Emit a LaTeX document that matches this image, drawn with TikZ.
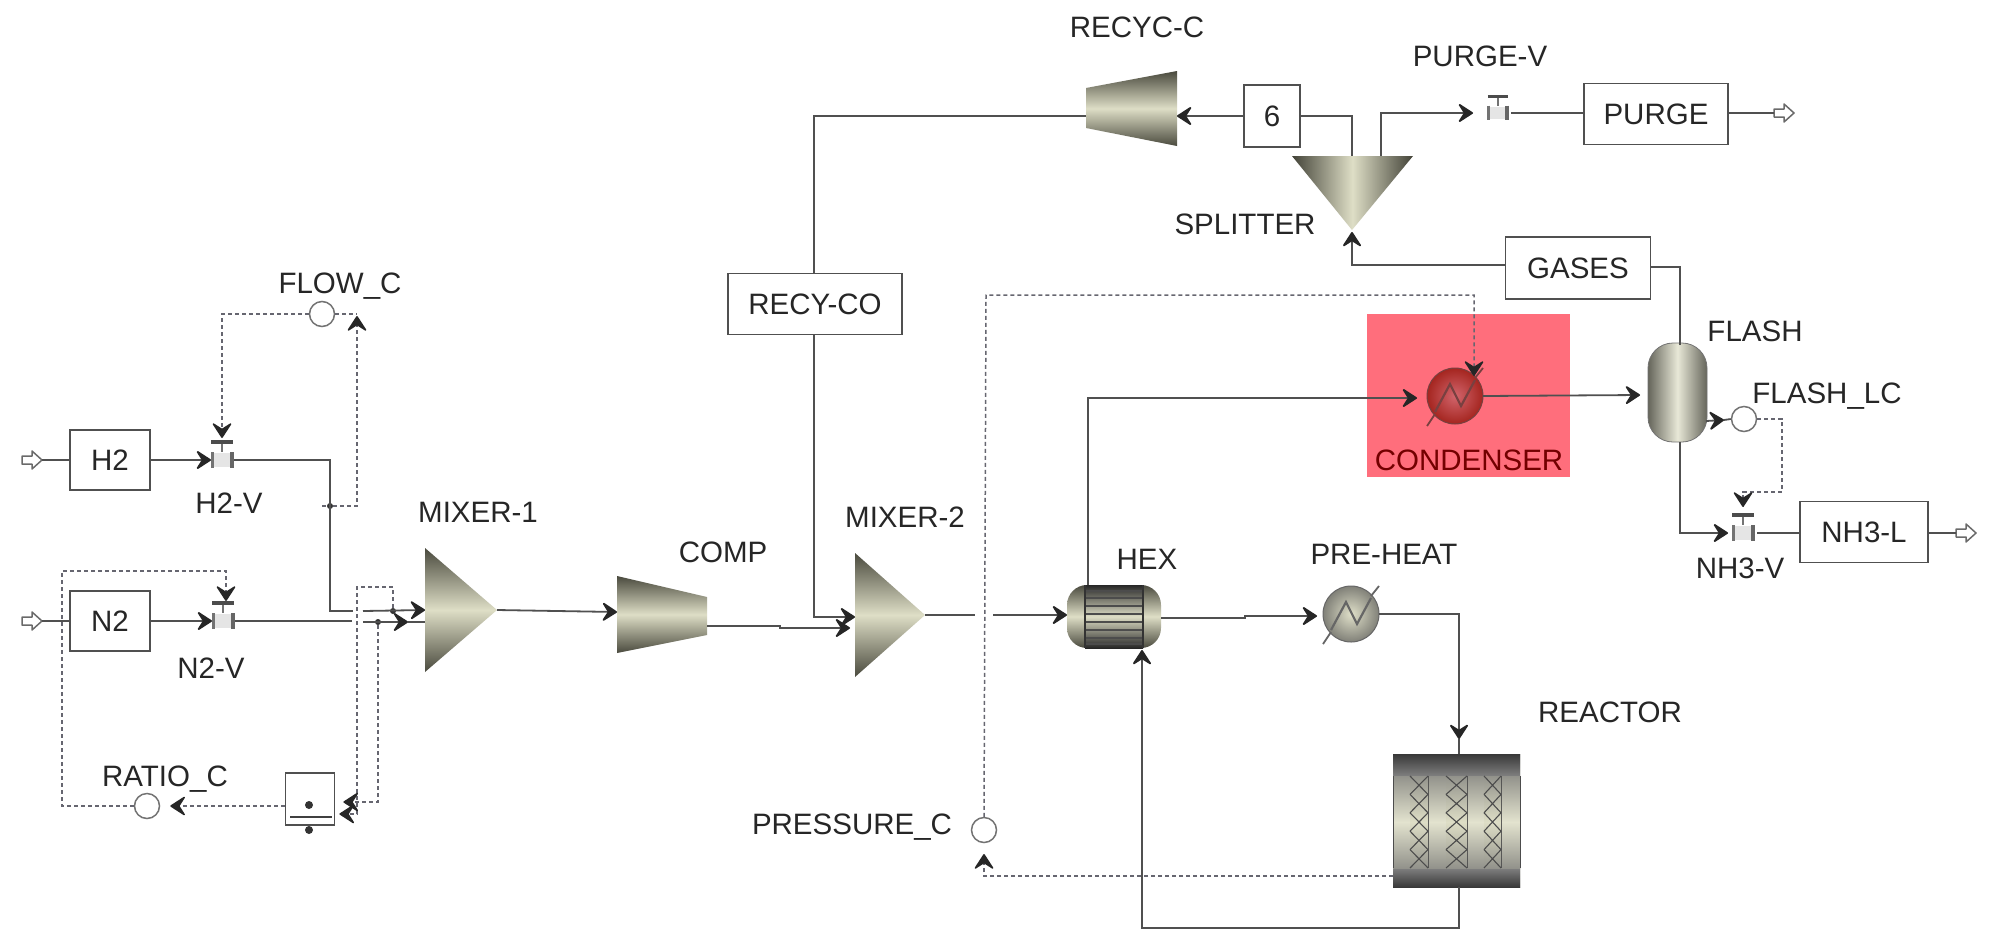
\documentclass[tikz,border=0pt]{standalone}
\usepackage{fontspec}
\setmainfont{Liberation Sans}
\usetikzlibrary{arrows.meta,calc}
\definecolor{pipec}{HTML}{505050}
\definecolor{sigc}{HTML}{666670}
\definecolor{txt}{HTML}{262626}
\definecolor{metald}{HTML}{4A4A3E}
\definecolor{metall}{HTML}{DEDEC6}
\definecolor{roomc}{HTML}{FF6E7C}
\tikzset{
  pipe/.style={draw=pipec,line width=1.8pt},
  pipea/.style={pipe,-{Stealth[length=17pt,width=22pt,inset=7pt,round,color=black!85]}},
  sig/.style={draw=sigc,line width=1.5pt,dash pattern=on 4pt off 3pt},
  siga/.style={sig,-{Stealth[length=17pt,width=22pt,inset=7pt,round,color=black!85]}},
  blockbox/.style={draw=pipec,line width=1.8pt,fill=white,minimum height=60pt,inner sep=0pt,text=txt,font=\fontsize{29.5}{32}\selectfont},
  lbl/.style={text=txt,font=\fontsize{29.5}{32}\selectfont,inner sep=0pt},
  ctrl/.style={circle,draw=pipec!80,line width=1.5pt,fill=white,minimum size=25pt,inner sep=0pt},
  tapdot/.style={circle,fill=black!80,minimum size=6pt,inner sep=0pt},
  metalv/.style={top color=metald,bottom color=metald,middle color=metall},
  metalh/.style={left color=metald,right color=metald,middle color=metall},
  pics/hollow/.style={code={
    \draw[line width=1.5pt,draw=pipec!85,fill=white,line join=round] (-10,-4)--(0,-4)--(0,-9)--(10,0)--(0,9)--(0,4)--(-10,4)--cycle;}},
  pics/valve/.style={code={
    \fill[black!10] (-10,-7) rectangle (10,7);
    \draw[line width=3pt,draw=black!55] (-10,-8)--(-10,8);
    \draw[line width=3.5pt,draw=black!60] (10,-8)--(10,8);
    \draw[line width=2pt,draw=black!55] (0,-18)--(0,-8);
    \draw[line width=3.5pt,draw=black!70] (-11,-18)--(11,-18);}},
  pics/hxer/.style n args={3}{code={
    \shade[inner color=#1,outer color=#2] (0,0) circle[radius=28pt];
    \draw[line width=1pt,draw=#3] (0,0) circle[radius=28pt];
    \draw[line width=1.8pt,draw=#3] (-28,30)--(-20,18);
    \draw[line width=1.8pt,draw=#3] (20,-18)--(28,-28);
    \draw[line width=2.2pt,draw=#3,line join=miter] (-20,16)--(-5,-12)--(6,10)--(20,-16);}},
}
\begin{document}
\begin{tikzpicture}[x=1pt,y=-1pt]
\useasboundingbox (0,0) rectangle (1991,930);
\fill[white] (0,0) rectangle (1991,930);
% condenser backdrop
\fill[roomc] (1367,314) rectangle (1570,477);

% ---- blocks
\node[blockbox,minimum width=80pt] (H2) at (110,460) {H2};
\node[blockbox,minimum width=80pt] (N2) at (110,621) {N2};
\node[blockbox,minimum width=174pt,minimum height=61pt] (RECYCO) at (815,304) {RECY-CO};
\node[blockbox,minimum width=56pt,minimum height=62pt] (B6) at (1272,116) {6};
\node[blockbox,minimum width=144pt,minimum height=61pt] (PURGE) at (1656,114) {PURGE};
\node[blockbox,minimum width=145pt,minimum height=62pt,fill=none] (GASES) at (1578,268) {GASES};
\node[blockbox,minimum width=128pt,minimum height=61pt] (NH3L) at (1864,532) {NH3-L};
\node[draw=pipec,line width=1.8pt,fill=white,minimum width=49pt,minimum height=52pt,inner sep=0pt] (DIV) at (310,799) {};
\node[tapdot,minimum size=8pt] (divA) at (309,805) {};
\draw[line width=2.5pt,draw=black!75] (290,817)--(332,817);
\node[tapdot,minimum size=8pt] (divB) at (309,830) {};

% ---- named ports
\coordinate (FH) at (32,460); \coordinate (FN) at (32,621);
\coordinate (FP) at (1784,113); \coordinate (FL) at (1966,533);
\coordinate (VH) at (222,460); \coordinate (VN) at (223,621);
\coordinate (VP) at (1498,113); \coordinate (VL) at (1743,533);
\coordinate (M1a) at (425,610); \coordinate (M1b) at (425,622); \coordinate (M1o) at (497,610);
\coordinate (Ci) at (617,612); \coordinate (Co) at (707,626);
\coordinate (M2a) at (855,617); \coordinate (M2b) at (850,628); \coordinate (M2o) at (925,615);
\coordinate (Hi) at (1067,615); \coordinate (Ho) at (1161,618); \coordinate (Ht) at (1088,585); \coordinate (Hb) at (1142,650);
\coordinate (PH) at (1351,614); \coordinate (CD) at (1455,396);
\coordinate (Rt) at (1459,754); \coordinate (Rb) at (1459,887); \coordinate (Rl) at (1393,876);
\coordinate (Ri) at (1177,116); \coordinate (Ro) at (1086,116);
\coordinate (St) at (1352,232);
\coordinate (Fi) at (1648,395); \coordinate (Ft) at (1680,345); \coordinate (Fb) at (1680,442); \coordinate (Fr) at (1706,421);

% ---- controllers
\node[ctrl] (FC) at (322,314) {};
\node[ctrl] (RC) at (147,806) {};
\node[ctrl] (PC) at (984,830) {};
\node[ctrl] (LC) at (1744,419) {};
\node[tapdot] (t1) at (330,506) {};
\node[tapdot] (t2) at (393,611) {};
\node[tapdot] (t3) at (378,622) {};

% ---- equipment
\shade[metalv] (425,548)--(497,610)--(425,672)--cycle;
\shade[metalv] (855,553)--(925,615)--(855,677)--cycle;
\shade[metalv] (617,576)--(707,597)--(707,635)--(617,653)--cycle;
\shade[metalv] (1086,88)--(1177,71)--(1177,146)--(1086,128)--cycle;
\shade[left color=metald!90!black,right color=metald!90!black,middle color=metall] (1292,156)--(1413,156)--(1352,230)--cycle;
% flash
\shade[left color=metald!85!white,right color=metald!85!white,middle color=metall!70!white,rounded corners=25pt] (1648,343) rectangle (1707,442);
\draw[line width=.8pt,draw=black!55,rounded corners=25pt] (1648,343) rectangle (1707,442);
% hex
\shade[metalv,rounded corners=20pt] (1067,585) rectangle (1161,648);
\shade[top color=black!85,bottom color=black!85,middle color=metall] (1085,585) rectangle (1143,648);
\foreach \yy in {591,598,606,614,622,630,638,644} \draw[line width=1.8pt,draw=black!70] (1085,\yy)--(1143,\yy);
\draw[line width=1.6pt,draw=black!80] (1085,585)--(1085,648) (1143,585)--(1143,648);
% reactor
\shade[top color=metald,bottom color=metald,middle color=metall] (1393,754) rectangle (1520,887);
\shade[top color=black!78,bottom color=black!50] (1393,754) rectangle (1520,776);
\shade[top color=black!50,bottom color=black!78] (1393,868) rectangle (1520,887);
\foreach \xa/\xb in {1393/1410,1428/1446,1467/1484,1501/1520}{
  \shade[top color=metald!60!white,bottom color=metald!60!white,middle color=metall!85!white] (\xa,776) rectangle (\xb,868);
  \draw[line width=1pt,draw=black!70] (\xa,776)--(\xa,868) (\xb,776)--(\xb,868);}
\foreach \xa/\xb in {1410/1428,1446/1467,1484/1501}{
  \shade[top color=metald!60!white,bottom color=metald!60!white,middle color=metall] (\xa,776) rectangle (\xb,868);
  \foreach \k in {0,...,4}{
    \draw[line width=1.1pt,draw=black!70] (\xa,776+18.4*\k)--(\xb,776+18.4*\k+18.4) (\xb,776+18.4*\k)--(\xa,776+18.4*\k+18.4);}}
% exchangers
\pic at (PH) {hxer={metall!95!white}{metald!70!white}{black!60}};
\pic at (CD) {hxer={roomc!75!metald}{red!50!metald}{red!30!black!75}};
% valves and outlets
\pic at (VH) {valve}; \pic at (VN) {valve}; \pic at (VL) {valve};
\pic[scale=.92] at (VP) {valve};
\pic at (FH) {hollow}; \pic at (FN) {hollow}; \pic at (FP) {hollow}; \pic at (FL) {hollow};

% ---- process streams
\draw[pipe] ($(FH)+(10,0)$) -- (H2.west);
\draw[pipe] ($(FN)+(10,0)$) -- (N2.west);
\draw[pipea] (H2.east) -- ($(VH)+(-11,0)$);
\draw[pipea] (N2.east) -- ($(VN)+(-11,0)$);
\coordinate (h1) at (330,460); \coordinate (h2) at (330,611); \coordinate (h3) at (353,611); \coordinate (h4) at (363,611);
\draw[pipe] ($(VH)+(12,0)$) -- (h1) -- (h2) -- (h3);
\draw[pipea] (h4) -- (M1a);
\coordinate (n1) at (352,621); \coordinate (n2) at (363,622); \coordinate (n3) at (408,622);
\draw[pipe] ($(VN)+(12,0)$) -- (n1);
\draw[pipea] (n2) -- (n3);
\draw[pipe] (n3) -- (M1b);
\draw[pipea] (M1o) -- (Ci);
\coordinate (c1) at (780,626); \coordinate (c2) at (780,628);
\draw[pipea] (Co) -- (c1) -- (c2) -- (M2b);
\draw[pipe] (B6.east) -- (1352,116) -- (1352,156);
\draw[pipea] (B6.west) -- (Ri);
\draw[pipe] (Ro) -- (814,116) -- (RECYCO.north -| 814,0);
\draw[pipea] (RECYCO.south -| 814,0) -- (814,617) -- (M2a);
\coordinate (m1) at (975,615); \coordinate (m2) at (993,615);
\draw[pipe] (M2o) -- (m1);
\draw[pipea] (m2) -- (Hi);
\coordinate (x1) at (1245,618); \coordinate (x2) at (1245,616);
\draw[pipea] (Ho) -- (x1) -- (x2) -- ($(PH)+(-34,2)$);
\coordinate (p1) at (1459,614);
\draw[pipea] ($(PH)+(28,0)$) -- (p1) -- ($(Rt)+(0,-15)$);
\draw[pipe] ($(Rt)+(0,-15)$) -- (Rt);
\coordinate (r1) at (1459,928); \coordinate (r2) at (1142,928);
\draw[pipea] (Rb) -- (r1) -- (r2) -- (Hb);
\coordinate (u1) at (1088,398);
\draw[pipea] (Ht) -- (u1) -- ($(CD)+(-38,2)$);
\draw[pipea] ($(CD)+(28,0)$) -- ($(Fi)+(-8,0)$);
\coordinate (g1) at (1352,265);
\draw[pipea] (GASES.west |- g1) -- (g1) -- (St);
\coordinate (g2) at (1680,267);
\draw[pipe] (GASES.east |- g2) -- (g2) -- (Ft);
\coordinate (s1) at (1381,113);
\draw[pipea] (1381,156) -- (s1) -- ($(VP)+(-25,0)$);
\draw[pipe] ($(VP)+(13,0)$) -- (PURGE.west |- VP);
\draw[pipe] (PURGE.east |- VP) -- ($(FP)+(-10,0)$);
\coordinate (l1) at (1680,533);
\draw[pipea] (Fb) -- (l1) -- ($(VL)+(-15,0)$);
\draw[pipe] ($(VL)+(14,0)$) -- (NH3L.west |- VL);
\draw[pipe] (NH3L.east |- VL) -- ($(FL)+(-10,0)$);

% ---- signals
\coordinate (a1) at (322,506); \coordinate (a2) at (357,506); \coordinate (a3) at (357,316);
\draw[sig] (a1) -- (t1);
\draw[siga] (t1) -- (a2) -- (a3);
\draw[sig] (FC.east) -- (357,314);
\coordinate (a4) at (222,314);
\draw[siga] (FC.west) -- (a4) -- (222,438);
\coordinate (b1) at (357,587); \coordinate (b2) at (393,587);
\coordinate (b3) at (357,814); \coordinate (b4) at (380,802);
\draw[siga] (t2) -- (b2) -- (b1) -- (b3) -- ($(DIV.east |- b3)+(4,0)$);
\draw[siga] (t3) -- (t3 |- b4) -- ($(DIV.east |- b4)+(8,0)$);
\draw[siga] (DIV.west |- RC) -- ($(RC.east)+(10,0)$);
\coordinate (d1) at (62,806); \coordinate (d2) at (62,571); \coordinate (d3) at (226,571);
\draw[siga] (RC.west) -- (d1) -- (d2) -- (d3) -- (226,601);
\coordinate (e1) at (986,295); \coordinate (e2) at (1474,295);
\draw[siga] (PC.north) -- (e1) -- (e2) -- (1474,376);
\coordinate (e3) at (984,876);
\draw[siga] (Rl) -- (e3) -- (984,854);
\draw[pipe,-{Stealth[length=17pt,width=22pt,inset=7pt,round,color=black!85]}] (Fr) -- (1724,420);
\draw[pipe] (1724,420) -- (LC.west);
\coordinate (q1) at (1782,419); \coordinate (q2) at (1782,492); \coordinate (q3) at (1743,492);
\draw[siga] (LC.east) -- (q1) -- (q2) -- (q3) -- (1743,507);

% ---- labels
\node[lbl] (lFC) at (340,286) {FLOW\_C};
\node[lbl] (lHV) at (229,503) {H2-V};
\node[lbl] (lNV) at (211,668) {N2-V};
\node[lbl] (lM1) at (478,512) {MIXER-1};
\node[lbl] (lRC) at (165,779) {RATIO\_C};
\node[lbl] (lC) at (723,552) {COMP};
\node[lbl] (lM2) at (905,517) {MIXER-2};
\node[lbl] (lPC) at (852,827) {PRESSURE\_C};
\node[lbl] (lRCc) at (1137,27) {RECYC-C};
\node[lbl] (lPV) at (1480,56) {PURGE-V};
\node[lbl] (lS) at (1245,224) {SPLITTER};
\node[lbl] (lF) at (1755,331) {FLASH};
\node[lbl] (lLC) at (1827,396) {FLASH\_LC};
\node[lbl,text=red!45!black] (lCD) at (1469,460) {CONDENSER};
\node[lbl] (lNV2) at (1740,568) {NH3-V};
\node[lbl] (lH) at (1147,559) {HEX};
\node[lbl] (lPH) at (1384,554) {PRE-HEAT};
\node[lbl] (lR) at (1610,712) {REACTOR};
\end{tikzpicture}
\end{document}
